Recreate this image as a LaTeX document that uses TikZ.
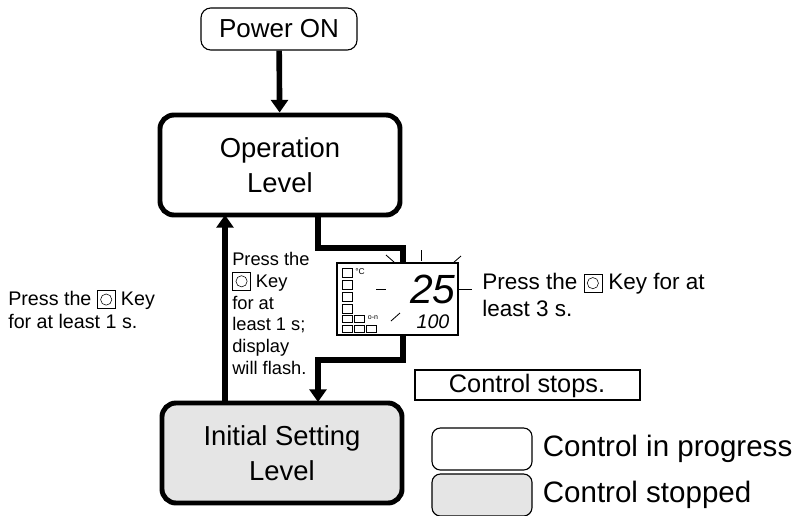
\documentclass[tikz,border=0pt]{standalone}
\usepackage{fontspec}
\setmainfont{Liberation Sans}
\usetikzlibrary{positioning,arrows.meta}
\newcommand{\keyicon}{\tikz[x=1cm,y=1cm,baseline=-0.1em]{\draw[line width=0.4pt] (0,-0.12) rectangle (0.45,0.33); \draw[line width=0.4pt] (0.225,0.105) circle (0.14);}}
\tikzset{
  level/.style={rectangle, rounded corners=10pt, draw, line width=3.5pt, minimum width=6cm, minimum height=2.5cm, align=center, font=\fontsize{19.5}{25}\selectfont},
  start/.style={rectangle, rounded corners=7pt, draw, line width=0.8pt, minimum width=3.9cm, minimum height=1.05cm, font=\fontsize{18.5}{22}\selectfont},
  legend/.style={rectangle, rounded corners=6pt, draw, line width=0.8pt, minimum width=2.5cm, minimum height=1.05cm},
  flow/.style={line width=4pt, -{Triangle[length=9pt,width=12pt]}},
  note/.style={align=left, font=\fontsize{13}{15.5}\selectfont, inner sep=0pt},
}
\begin{document}
\begin{tikzpicture}[x=0.025cm,y=-0.025cm]
    \useasboundingbox (0,0) rectangle (798,515);
    % boxes
        \node [start] (power) at (279,29) {Power ON};
        \node [level] (oper) at (280,165) {Operation\\Level};
        \node [level, fill=black!10] (init) at (282,453) {Initial Setting\\Level};
        \draw [line width=1.2pt] (415,370) rectangle (640,400);
        \node [font=\fontsize{18}{20}\selectfont] (stops) at (527,386) {Control stops.};
    % display
        \draw [line width=0.8pt] (337,263) rectangle (458,335);
        \coordinate (disptop) at (403,263);
        \coordinate (dispbot) at (403,336);
        \foreach \yy in {268,280,292,304} \draw [line width=0.5pt] (342,\yy) rectangle (352,\yy+9);
        \foreach \xx in {342,354,366} {\draw [line width=0.5pt] (\xx,325) rectangle (\xx+10,332);}
        \foreach \xx in {342,354} {\draw [line width=0.5pt] (\xx,315) rectangle (\xx+10,322);}
        \node [font=\fontsize{6}{6}\selectfont, inner sep=0pt] at (360,272) {°C};
        \node [font=\fontsize{5}{5}\selectfont, inner sep=0pt] at (373,318) {o-n};
        \draw [line width=0.6pt] (376,289) -- (386,289);
        \draw [line width=0.6pt] (391,321) -- (400,313);
        \node [font=\fontsize{29}{29}\selectfont\itshape, inner sep=0pt] at (433,289) {25};
        \node [font=\fontsize{14}{14}\selectfont\itshape, inner sep=0pt] at (433,322) {100};
        \draw [line width=0.6pt] (386,255) -- (394,262);
        \draw [line width=0.6pt] (421,250) -- (421,261);
        \draw [line width=0.6pt] (461,256) -- (453,263);
        \draw [line width=0.6pt] (458,289) -- (472,289);
    % legend
        \node [legend] (run) at (482,449) {};
        \node [legend, fill=black!10] (stop) at (482,495) {};
        \node [right=0.25cm of run, font=\fontsize{21}{24}\selectfont, inner sep=0pt] {Control in progress};
        \node [right=0.25cm of stop, font=\fontsize{21}{24}\selectfont, inner sep=0pt] {Control stopped};
    % texts
        \node [note, anchor=north west, font=\fontsize{14}{16.5}\selectfont] (left) at (8,290) {Press the \keyicon{} Key\\for at least 1 s.};
        \node [note, anchor=north west] (mid) at (232,252) {Press the\\\keyicon{} Key\\for at\\least 1 s;\\display\\will flash.};
        \node [note, anchor=north west, font=\fontsize{16}{19}\selectfont] (right) at (482,273) {Press the \keyicon{} Key for at\\least 3 s.};
    % connectors
        \draw [flow] (power) -- (oper);
        \draw [line width=4pt] (318,215) |- (403,248) -- (disptop);
        \draw [flow] (dispbot) -- (403,360) -| (318,402);
        \draw [flow] (225,402) -- (225,215);
\end{tikzpicture}
\end{document}
